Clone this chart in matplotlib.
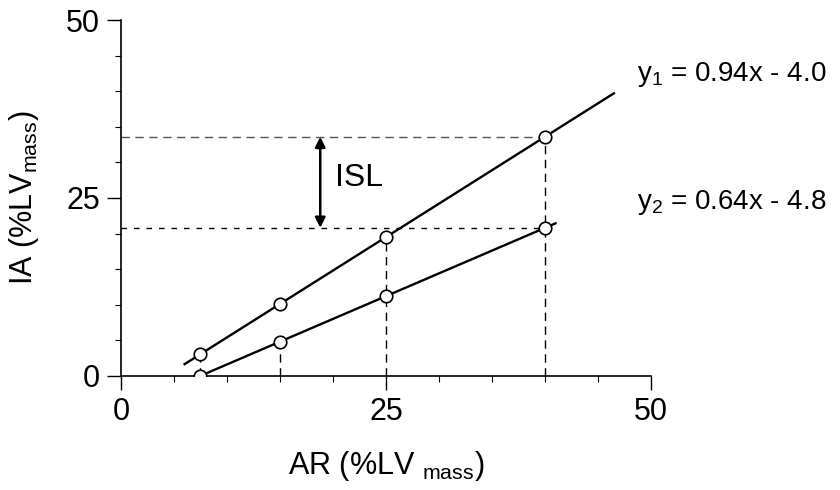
import matplotlib
matplotlib.use("Agg")
import matplotlib.pyplot as plt
import numpy as np

plt.rcParams['font.family'] = ['Liberation Sans', 'DejaVu Sans']
plt.rcParams['mathtext.default'] = 'regular'

# measured points (AR, IA) and regression coefficients
ar_points = [7.5, 15, 25, 40]
slope1, icpt1 = 0.94, -4.0
slope2, icpt2 = 0.64, -4.8
line1_range = [6.0, 46.5]
line2_range = [7.5, 41.0]
# which line each vertical guide reaches up to
guide_top = ['y1', 'y2', 'y1', 'y1']

def f1(x):
    return slope1 * np.asarray(x) + icpt1

def f2(x):
    return slope2 * np.asarray(x) + icpt2

fig = plt.figure(figsize=(8.4, 4.9), dpi=100)
ax = fig.add_axes([0.144, 0.233, 0.631, 0.726])

# guide lines
x_ref = ar_points[-1]
ax.plot([0, x_ref], [f1(x_ref), f1(x_ref)], color='#555555', lw=1.0, dashes=(6, 4), zorder=1)
ax.plot([0, x_ref], [f2(x_ref), f2(x_ref)], color='black', lw=1.0, dashes=(4, 5), zorder=1)
for x, top in zip(ar_points, guide_top):
    ytop = f1(x) if top == 'y1' else f2(x)
    ax.plot([x, x], [0, ytop], color='black', lw=1.0, dashes=(6, 4), zorder=1)

# regression lines
xs1 = np.array(line1_range)
xs2 = np.array(line2_range)
ax.plot(xs1, f1(xs1), color='black', lw=1.7, zorder=2)
ax.plot(xs2, f2(xs2), color='black', lw=1.7, zorder=2)

# data points
ax.plot(ar_points, f1(ar_points), 'o', ms=9, mfc='white', mec='black', mew=1.2, zorder=3)
ax.plot(ar_points, f2(ar_points), 'o', ms=9, mfc='white', mec='black', mew=1.2, zorder=3)

# ISL arrow between the two lines at x_ref
ax.annotate('', xy=(18.8, f1(x_ref)), xytext=(18.8, f2(x_ref)),
            arrowprops=dict(arrowstyle='<|-|>', color='black', lw=1.8,
                            mutation_scale=15, shrinkA=0, shrinkB=0))
ax.text(20.2, 27.8, 'ISL', fontsize=23, va='center', ha='left')

# equations
ax.text(48.7, 42.3, 'y$_1$ = 0.94x - 4.0', fontsize=20, va='center', ha='left', clip_on=False)
ax.text(48.7, 24.4, 'y$_2$ = 0.64x - 4.8', fontsize=20, va='center', ha='left', clip_on=False)

ax.set_xlim(0, 50)
ax.set_ylim(0, 50)
ax.set_xticks([0, 25, 50])
ax.set_yticks([0, 25, 50])
ax.set_xticks(np.arange(0, 51, 5), minor=True)
ax.set_yticks(np.arange(0, 51, 5), minor=True)
ax.tick_params(which='major', length=10, width=1.0, labelsize=22, direction='out', pad=5)
ax.tick_params(which='minor', length=4, width=0.8, direction='out')
for side in ['top', 'right']:
    ax.spines[side].set_visible(False)
for side in ['left', 'bottom']:
    ax.spines[side].set_linewidth(1.2)

ax.set_xlabel('AR (%LV $_{mass}$)', fontsize=22, labelpad=16)
ax.set_ylabel('IA (%LV$_{mass}$)', fontsize=22, labelpad=18)

fig.savefig('out.png', dpi=100)
